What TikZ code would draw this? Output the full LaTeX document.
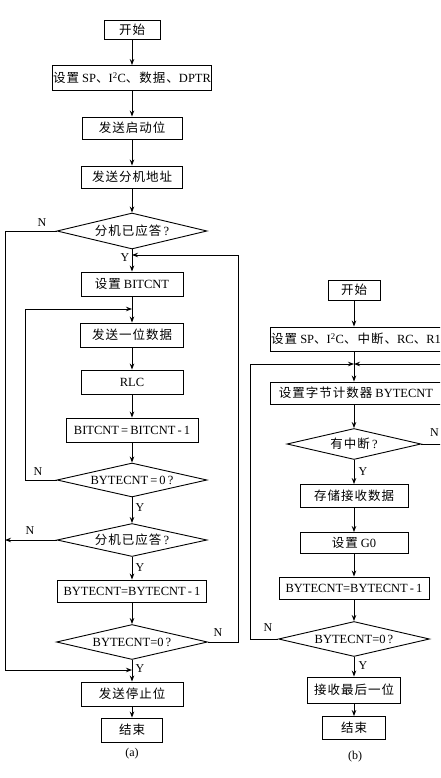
\documentclass[tikz,border=0pt]{standalone}
\usepackage{fontspec}
\setmainfont{Liberation Serif}
\newfontfamily\cjk[LetterSpace=8]{Noto Sans CJK SC}
\usetikzlibrary{shapes.geometric,arrows.meta}
\newcommand{\zh}[1]{{\cjk #1}}

\tikzstyle{box} = [draw,line width=0.9pt,inner sep=1pt,font=\fontsize{12.5}{14}\selectfont]
\tikzstyle{cond} = [draw,diamond,aspect=4.3,inner sep=0pt,line width=0.9pt,font=\fontsize{12.5}{14}\selectfont]
\tikzstyle{line} = [line width=0.9pt]
\tikzstyle{arrow} = [line width=0.9pt,-{Stealth[length=6pt,width=4.5pt]}]
\tikzstyle{lab} = [font=\fontsize{12}{13}\selectfont,inner sep=0pt]

\begin{document}
\begin{tikzpicture}[x=1pt,y=-1pt]
	\useasboundingbox (0,0) rectangle (440,778);
	\clip (0,0) rectangle (440,778);
	
	\node[box,minimum width=56,minimum height=19] (a1) at (132,30) {\zh{开始}};
	\node[box,minimum width=159,minimum height=25] (a2) at (132,78) {\zh{设置} SP\zh{、}I\textsuperscript{2}C\zh{、数据、}DPTR};
	\node[box,minimum width=100,minimum height=22] (a3) at (132,128) {\zh{发送启动位}};
	\node[box,minimum width=101,minimum height=22] (a4) at (132,177) {\zh{发送分机地址}};
	\node[cond,minimum width=150,minimum height=36] (a5) at (132,231) {\zh{分机已应答}\,?};
	\node[box,minimum width=102,minimum height=24] (a6) at (132,284) {\zh{设置} BITCNT};
	\node[box,minimum width=103,minimum height=24] (a7) at (132,335) {\zh{发送一位数据}};
	\node[box,minimum width=102,minimum height=24] (a8) at (132,382) {RLC};
	\node[box,minimum width=132,minimum height=24] (a9) at (132,430) {BITCNT\,=\,BITCNT\,-\,1};
	\node[cond,minimum width=150,minimum height=34] (a10) at (132,480) {BYTECNT\,=\,0\,?};
	\node[cond,minimum width=150,minimum height=33] (a11) at (132,540) {\zh{分机已应答}\,?};
	\node[box,minimum width=149,minimum height=22] (a12) at (132,591) {BYTECNT=BYTECNT\,-\,1};
	\node[cond,minimum width=151,minimum height=35] (a13) at (132,642) {BYTECNT=0\,?};
	\node[box,minimum width=102,minimum height=24] (a14) at (132,694) {\zh{发送停止位}};
	\node[box,minimum width=61,minimum height=24] (a15) at (132,730) {\zh{结束}};
	\node[lab] (capa) at (132,754) {(a)};
	
	\coordinate (p1) at (5,231);
	\coordinate (p2) at (5,670);
	\coordinate (j1) at (132,670);
	\coordinate (p3) at (5,540);
	\coordinate (p4) at (25,480);
	\coordinate (p5) at (25,309);
	\coordinate (j2) at (132,309);
	\coordinate (p6) at (238,642);
	\coordinate (p7) at (238,255);
	\coordinate (j3) at (132,255);
	
	\draw[arrow] (a1) -- (a2);
	\draw[arrow] (a2) -- (a3);
	\draw[arrow] (a3) -- (a4);
	\draw[arrow] (a4) -- (a5);
	\draw[arrow] (a5) -- (a6);
	\draw[arrow] (a6) -- (a7);
	\draw[arrow] (a7) -- (a8);
	\draw[arrow] (a8) -- (a9);
	\draw[arrow] (a9) -- (a10);
	\draw[arrow] (a10) -- (a11);
	\draw[arrow] (a11) -- (a12);
	\draw[arrow] (a12) -- (a13);
	\draw[arrow] (a13) -- (a14);
	\draw[arrow] (a14) -- (a15);
	
	\draw[line] (a5.west) -- (p1) -- (p2);
	\draw[arrow] (p2) -- (j1);
	\draw[arrow] (a11.west) -- (p3);
	\draw[line] (a10.west) -- (p4) -- (p5);
	\draw[arrow] (p5) -- (j2);
	\draw[line] (a13.east) -- (p6) -- (p7);
	\draw[arrow] (p7) -- (j3);
	
	\node[lab] (n1) at (42,223) {N};
	\node[lab] (y1) at (125,258) {Y};
	\node[lab] (n2) at (38,472) {N};
	\node[lab] (y2) at (140,508) {Y};
	\node[lab] (n3) at (30,531) {N};
	\node[lab] (y3) at (140,568) {Y};
	\node[lab] (n4) at (218,633) {N};
	\node[lab] (y4) at (140,669) {Y};
	
	\node[box,minimum width=52,minimum height=20] (b1) at (354,290) {\zh{开始}};
	\node[box,minimum width=172,minimum height=24] (b2) at (356,339) {\zh{设置} SP\zh{、}I\textsuperscript{2}C\zh{、中断、}RC\zh{、}R1};
	\node[box,minimum width=172,minimum height=22] (b3) at (356,393) {\zh{设置字节计数器} BYTECNT};
	\node[cond,minimum width=134,minimum height=31] (b4) at (354,444) {\zh{有中断}\,?};
	\node[box,minimum width=108,minimum height=23] (b5) at (354,496) {\zh{存储接收数据}};
	\node[box,minimum width=108,minimum height=21] (b6) at (354,543) {\zh{设置} G0};
	\node[box,minimum width=150,minimum height=22] (b7) at (354,588) {BYTECNT=BYTECNT\,-\,1};
	\node[cond,minimum width=151,minimum height=35] (b8) at (354,639) {BYTECNT=0\,?};
	\node[box,minimum width=93,minimum height=26] (b9) at (354,690) {\zh{接收最后一位}};
	\node[box,minimum width=63,minimum height=23] (b10) at (354,728) {\zh{结束}};
	\node[lab] (capb) at (355,757) {(b)};
	
	\coordinate (m1) at (354,364);
	\coordinate (q1) at (250,639);
	\coordinate (q2) at (250,364);
	\coordinate (q3) at (446,444);
	\coordinate (q4) at (446,364);
	
	\draw[arrow] (b1) -- (b2.north -| b1);
	\draw[arrow] (b2.south -| m1) -- (b3.north -| m1);
	\draw[arrow] (b3.south -| b4) -- (b4);
	\draw[arrow] (b4) -- (b5);
	\draw[arrow] (b5) -- (b6);
	\draw[arrow] (b6) -- (b7);
	\draw[arrow] (b7) -- (b8);
	\draw[arrow] (b8) -- (b9);
	\draw[arrow] (b9) -- (b10);
	
	\draw[line] (b8.west) -- (q1) -- (q2);
	\draw[arrow] (q2) -- (m1);
	\draw[line] (b4.east) -- (q3) -- (q4);
	\draw[arrow] (q4) -- (m1);
	
	\node[lab] (n5) at (268,628) {N};
	\node[lab] (y5) at (363,666) {Y};
	\node[lab,anchor=east] (n6) at (439,433) {N};
	\node[lab] (y6) at (363,472) {Y};
\end{tikzpicture}
\end{document}
